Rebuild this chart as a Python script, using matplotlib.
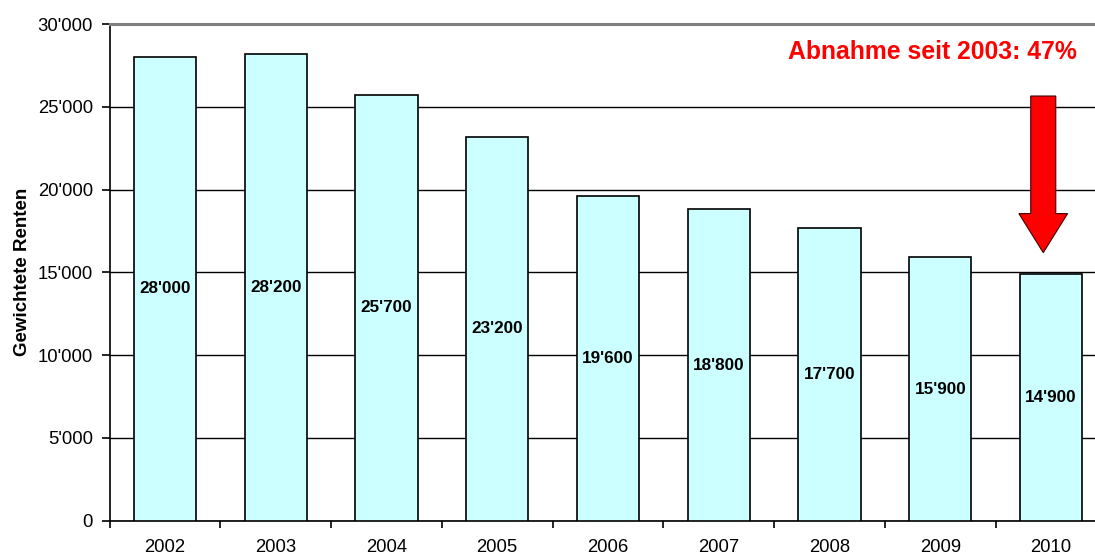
import matplotlib
matplotlib.use("Agg")
import matplotlib.pyplot as plt
from matplotlib.ticker import FuncFormatter, FixedLocator

plt.rcParams["font.family"] = ["Liberation Sans", "DejaVu Sans"]

years = ["2002", "2003", "2004", "2005", "2006", "2007", "2008", "2009", "2010"]
renten = [28000, 28200, 25700, 23200, 19600, 18800, 17700, 15900, 14900]
note = "Abnahme seit 2003: 47%"
arrow_top = 25650
arrow_tip = 16190


def swiss(v, pos=None):
    return f"{int(v):,}".replace(",", "'")


def main():
    fig = plt.figure(figsize=(10.95, 5.57), dpi=100)
    # plot area runs a little past the right edge, as in the exported chart
    ax = fig.add_axes([0.1001, 0.0652, 0.9103, 0.8917])

    x = range(len(years))
    bars = ax.bar(x, renten, width=0.56, color="#CCFFFF", edgecolor="black",
                  linewidth=1.2, zorder=3)
    for b, v in zip(bars, renten):
        ax.text(b.get_x() + b.get_width() / 2, v / 2, swiss(v), ha="center",
                va="center", fontsize=12.3, fontweight="bold", zorder=4)

    ax.set_xlim(-0.5, len(years) - 0.5)
    ax.set_ylim(0, 30000)
    ax.set_yticks(range(0, 30001, 5000))
    ax.yaxis.set_major_formatter(FuncFormatter(swiss))
    ax.yaxis.grid(True, color="black", linewidth=1.0)
    ax.set_axisbelow(True)

    ax.set_xticks(list(x))
    ax.set_xticklabels(years)
    ax.xaxis.set_minor_locator(FixedLocator([i - 0.5 for i in range(len(years) + 1)]))
    ax.tick_params(axis="x", which="major", length=0, pad=13, labelsize=13.3)
    ax.tick_params(axis="x", which="minor", length=5, width=1.2, direction="out")
    ax.tick_params(axis="y", length=6, width=1.2, pad=6, labelsize=13.3)

    ax.spines["right"].set_visible(False)
    ax.spines["top"].set_color("#808080")
    ax.spines["top"].set_linewidth(2.2)
    ax.spines["left"].set_linewidth(1.2)
    ax.spines["bottom"].set_linewidth(1.2)

    ax.set_ylabel("Gewichtete Renten", fontsize=13.5, fontweight="bold", labelpad=5)

    # red arrow over the last bar
    ax.arrow(7.93, arrow_top, 0, arrow_tip - arrow_top, width=0.226,
             head_width=0.44, head_length=2360, length_includes_head=True,
             facecolor="#FF0000", edgecolor="#400000", linewidth=0.8, zorder=5)

    fig.text(1077 / 1095, 1 - 52 / 557, note, color="#FF0000", fontsize=17.8,
             fontweight="bold", ha="right", va="center")

    fig.savefig("out.png", dpi=100)


if __name__ == "__main__":
    main()
